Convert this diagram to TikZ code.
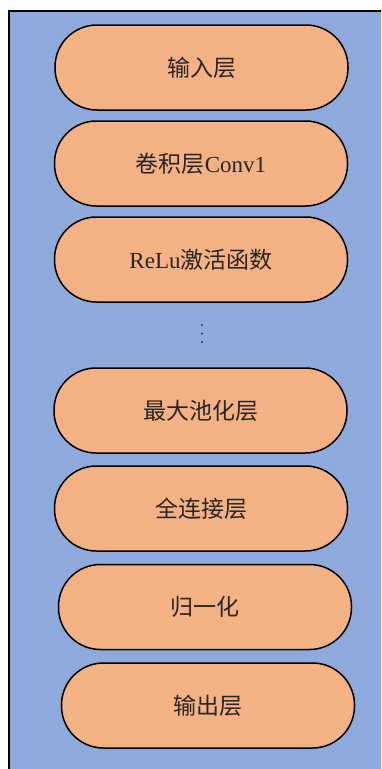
\documentclass[tikz,border=0pt]{standalone}
\usepackage{fontspec}
\setmainfont{Liberation Serif}
\newfontfamily\cjk{Noto Sans CJK SC}
\definecolor{bgblue}{HTML}{8EA9DB}
\definecolor{pillorange}{HTML}{F4B183}
\begin{document}
\begin{tikzpicture}[x=1pt,y=-1pt,
  pill/.style={draw=black, line width=1.5pt, fill=pillorange, rounded corners=42pt,
    minimum width=293pt, minimum height=85pt, inner sep=0pt,
    font=\fontsize{23}{27}\selectfont\cjk, text=black!85},
  dotmark/.style={circle, fill=black!85, inner sep=0pt, minimum size=2pt}]
\useasboundingbox (0,0) rectangle (381,769);
\begin{scope}
\clip (0,0) rectangle (381,769);
\draw[line width=2pt, fill=bgblue] (9,11) rectangle (395,785);
\end{scope}
\node[pill] (in) at (201.5,67.5) {输入层};
\node[pill] (conv) at (201,163.5) {卷积层\rmfamily Conv1};
\node[pill] (relu) at (201,259.5) {\rmfamily ReLu\cjk 激活函数};
\node[dotmark] (dot1) at (202,325) {};
\node[dotmark] (dot2) at (202,333.5) {};
\node[dotmark] (dot3) at (202,342) {};
\node[pill] (pool) at (200.5,410.5) {最大池化层};
\node[pill] (fc) at (201,508.5) {全连接层};
\node[pill] (norm) at (205,607) {归一化};
\node[pill] (out) at (208,705.5) {输出层};
\end{tikzpicture}
\end{document}
